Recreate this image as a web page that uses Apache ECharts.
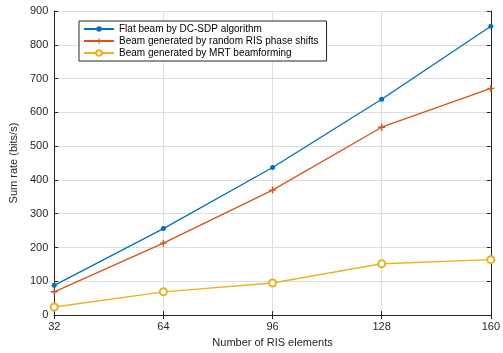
<!DOCTYPE html>
<html><head><meta charset="utf-8">
<script src="https://cdn.jsdelivr.net/npm/echarts@6/dist/echarts.min.js"></script>
<style>html,body{margin:0;padding:0;background:#fff}#c{width:503px;height:353px}</style>
</head><body><div id="c"></div>
<script>
const xValues = [32, 64, 96, 128, 160];
const flatBeam = [88, 256, 437, 639, 855];
const randomRIS = [69, 213, 370, 556, 671];
const mrtBeam = [24, 69, 95, 152, 164];
const seriesNames = ['Flat beam by DC-SDP algorithm', 'Beam generated by random RIS phase shifts', 'Beam generated by MRT beamforming'];

const font = 'Liberation Sans, Arial, Helvetica, sans-serif';
const txt = '#262626';
const plus = 'path://M4,0 L6,0 L6,4 L10,4 L10,6 L6,6 L6,10 L4,10 L4,6 L0,6 L0,4 L4,4 Z';
function pairs(arr){ return xValues.map((x,i)=>[x, arr[i]]); }

const chart = echarts.init(document.getElementById('c'), null, {renderer:'canvas'});
const axisCommon = {
  axisLine:{show:true, lineStyle:{color:txt, width:1}},
  axisTick:{show:true, inside:true, length:4, lineStyle:{color:txt}},
};
chart.setOption({
  animation:false,
  backgroundColor:'#fff',
  grid:{left:48, right:9, top:11, bottom:30, containLabel:false},
  legend:{
    left:79, top:21, orient:'vertical', itemWidth:30, itemHeight:7, itemGap:2,
    padding:[3,8,3,4], backgroundColor:'#fff', borderColor:txt, borderWidth:1, borderRadius:0,
    textStyle:{fontFamily:font, fontSize:10, color:'#000', lineHeight:10},
    data:seriesNames
  },
  xAxis:[
    Object.assign({type:'value', min:32, max:160, interval:32, position:'bottom',
      name:'Number of RIS elements', nameLocation:'middle', nameGap:19,
      nameTextStyle:{fontFamily:font, fontSize:11, color:txt},
      axisLabel:{fontFamily:font, fontSize:11, color:txt, margin:6},
      splitLine:{show:true, lineStyle:{color:'#dedede', width:1}}}, axisCommon),
    Object.assign({type:'value', min:32, max:160, interval:32, position:'top',
      axisLabel:{show:false}, splitLine:{show:false}}, axisCommon)
  ],
  yAxis:[
    Object.assign({type:'value', min:0, max:900, interval:100, position:'left',
      name:'Sum rate (bits/s)', nameLocation:'middle', nameGap:30,
      nameTextStyle:{fontFamily:font, fontSize:11, color:txt},
      axisLabel:{fontFamily:font, fontSize:11, color:txt, margin:6},
      splitLine:{show:true, lineStyle:{color:'#dedede', width:1}}}, axisCommon),
    Object.assign({type:'value', min:0, max:900, interval:100, position:'right',
      axisLabel:{show:false}, splitLine:{show:false}}, axisCommon)
  ],
  series:[
    {name:seriesNames[0], type:'line', data:pairs(flatBeam), symbol:'circle', symbolSize:5,
      color:'#0072BD', lineStyle:{width:1.3, color:'#0072BD'}, itemStyle:{color:'#0072BD'}},
    {name:seriesNames[1], type:'line', data:pairs(randomRIS), symbol:plus, symbolSize:7,
      color:'#D95319', lineStyle:{width:1.3, color:'#D95319'}, itemStyle:{color:'#D95319'}},
    {name:seriesNames[2], type:'line', data:pairs(mrtBeam), symbol:'emptyCircle', symbolSize:7,
      color:'#EDB120', lineStyle:{width:1.3, color:'#EDB120'}, itemStyle:{color:'#EDB120', borderColor:'#EDB120', borderWidth:1.2}}
  ]
});
</script></body></html>
